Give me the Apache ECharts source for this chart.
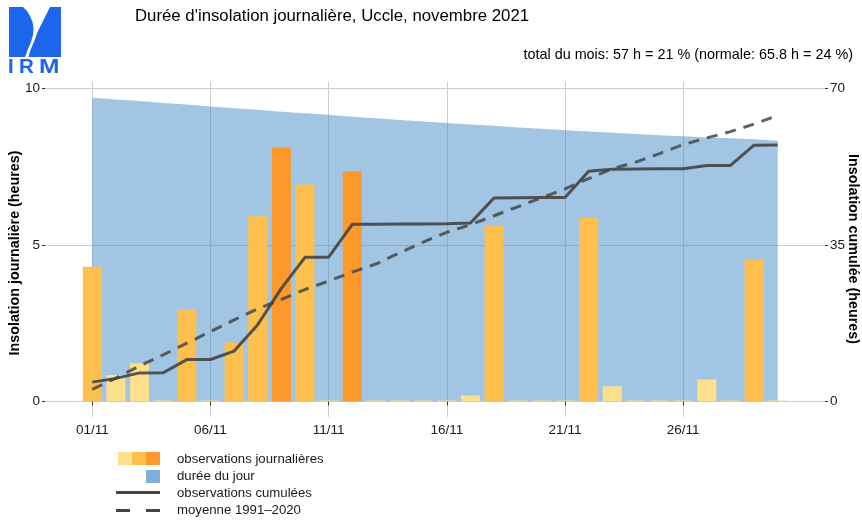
<!DOCTYPE html>
<html><head><meta charset="utf-8">
<script src="https://cdn.jsdelivr.net/npm/echarts@6/dist/echarts.min.js"></script>
<style>html,body{margin:0;padding:0;background:#fff}#c{width:862px;height:520px}</style>
</head><body><div id="c"></div><script>
// ---- data ----
const days = [1,2,3,4,5,6,7,8,9,10,11,12,13,14,15,16,17,18,19,20,21,22,23,24,25,26,27,28,29,30];
const axisDays = [-1,0,1,2,3,4,5,6,7,8,9,10,11,12,13,14,15,16,17,18,19,20,21,22,23,24,25,26,27,28,29,30,31,32];
const labelDays = [1,6,11,16,21,26];
const daily = [4.3,0.84,1.22,0.03,2.94,0.03,1.88,5.91,8.11,6.93,0.03,7.35,0.03,0.03,0.03,0.03,0.19,5.61,0.03,0.03,0.03,5.86,0.48,0.03,0.03,0.03,0.70,0.03,4.54,0.03];
const dayLength = [9.70,9.64,9.59,9.53,9.48,9.42,9.36,9.31,9.25,9.20,9.15,9.09,9.04,8.99,8.94,8.89,8.84,8.80,8.75,8.71,8.66,8.62,8.58,8.54,8.50,8.47,8.43,8.40,8.37,8.32];
const normalCum = [2.7,5.2,7.9,10.4,13.0,15.6,18.2,20.7,22.8,25.0,26.9,28.9,30.7,33.2,35.6,37.8,39.5,41.5,43.5,45.5,47.5,49.8,52.0,53.5,55.4,57.4,58.9,60.3,62.0,63.9];
const leftTicks = [0,5,10];
const rightTicks = [0,35,70];
const titleText = "Durée d'insolation journalière, Uccle, novembre 2021";
const subText = "total du mois: 57 h = 21 % (normale: 65.8 h = 24 %)";
const leftName = 'Insolation journalière (heures)';
const rightName = 'Insolation cumulée (heures)';

// ---- styles ----
const C_LIGHT = '#FDE08C', C_MED = '#FDC04F', C_DARK = '#FD982A';
const LOGO = '#1c66ee';
const FONT = "'Liberation Sans', Arial, sans-serif";

let run = 0;
const obsCum = daily.map(v => (run += v, run));
const cat = d => String(d);
const barData = days.map((d, i) => {
  const r = daily[i] / dayLength[i];
  const col = r >= 0.8 ? C_DARK : (r >= 0.18 ? C_MED : C_LIGHT);
  return { value: [cat(d), daily[i]], itemStyle: { color: col } };
});
const showDay = (idx, val) => labelDays.indexOf(+val) >= 0;

const chart = echarts.init(document.getElementById('c'), null, { renderer: 'canvas' });
const txt = (text, x, y) => ({ type: 'text', x: x, y: y, style: { text: text, font: '13.2px ' + FONT, fill: '#1a1a1a', verticalAlign: 'middle', textVerticalAlign: 'middle' } });
const logoLetter = (ch, x, sx) => ({ type: 'text', x: x, y: 67.5, scaleX: sx || 1, style: { text: ch, font: 'bold 20.5px ' + FONT, fill: LOGO, verticalAlign: 'middle', textVerticalAlign: 'middle' } });
const axisName = (text, x, y, rot) => ({ type: 'text', x: x, y: y, rotation: rot, style: { text: text, font: 'bold 14.3px ' + FONT, fill: '#000', align: 'center', textAlign: 'center', verticalAlign: 'middle', textVerticalAlign: 'middle' } });

chart.setOption({
  animation: false,
  textStyle: { fontFamily: FONT },
  title: [
    { text: titleText, left: 135, top: 8, padding: 0, textStyle: { fontSize: 16.8, fontWeight: 'normal', color: '#000', fontFamily: FONT } },
    { text: subText, right: 9, top: 48, padding: 0, textStyle: { fontSize: 14.4, fontWeight: 'normal', color: '#000', fontFamily: FONT } }
  ],
  grid: { left: 45, right: 37, top: 82, bottom: 103, outerBoundsMode: 'none', containLabel: false },
  xAxis: {
    type: 'category', data: axisDays.map(cat), boundaryGap: false,
    axisLine: { show: false },
    axisTick: { show: true, interval: showDay, length: 4, lineStyle: { color: '#333' } },
    axisLabel: { interval: showDay, margin: 6, color: '#1a1a1a', fontSize: 13.5, fontFamily: FONT,
      formatter: v => (+v < 10 ? '0' : '') + v + '/11' },
    splitLine: { show: true, interval: showDay, lineStyle: { color: '#cdcdcd', width: 1 } }
  },
  yAxis: [
    { type: 'value', min: -0.5, max: 10.2, position: 'left',
      axisLine: { show: false },
      axisTick: { show: true, customValues: leftTicks, length: 3, lineStyle: { color: '#333' } },
      axisLabel: { customValues: leftTicks, margin: 5, color: '#1a1a1a', fontSize: 13.5, fontFamily: FONT },
      splitLine: { show: true, lineStyle: { color: '#cdcdcd', width: 1 } } },
    { type: 'value', min: -3.5, max: 71.4, position: 'right',
      axisLine: { show: false },
      axisTick: { show: true, customValues: rightTicks, length: 3, lineStyle: { color: '#333' } },
      axisLabel: { customValues: rightTicks, margin: 5, color: '#1a1a1a', fontSize: 13.5, fontFamily: FONT },
      splitLine: { show: false } }
  ],
  series: [
    { name: 'durée du jour', type: 'line', yAxisIndex: 0, data: days.map((d, i) => [cat(d), dayLength[i]]),
      symbol: 'none', lineStyle: { width: 0 }, areaStyle: { color: 'rgba(67,139,197,0.5)', opacity: 1 }, silent: true, z: 1 },
    { name: 'observations journalières', type: 'bar', yAxisIndex: 0, data: barData, barWidth: 19, z: 2 },
    { name: 'moyenne 1991–2020', type: 'line', yAxisIndex: 1, data: days.map((d, i) => [cat(d), normalCum[i]]),
      symbol: 'none', lineStyle: { color: 'rgba(70,70,70,0.85)', width: 3, type: [11, 8] }, z: 3 },
    { name: 'observations cumulées', type: 'line', yAxisIndex: 1, data: days.map((d, i) => [cat(d), obsCum[i]]),
      symbol: 'none', lineStyle: { color: 'rgba(65,65,65,0.88)', width: 3 }, z: 4 }
  ],
  graphic: [
    // axis names
    axisName(leftName, 15, 253, Math.PI / 2),
    axisName(rightName, 853, 249, -Math.PI / 2),
    // logo
    { type: 'rect', shape: { x: 9, y: 7, width: 52, height: 50 }, style: { fill: LOGO } },
    { type: 'polygon', shape: { points: [[23,7],[27,11],[30,16],[32.5,22],[33.5,28],[33,35],[31,42],[28,49],[25,57],[28.5,57],[30.5,50],[33,44],[35.5,38],[38,31],[41,25],[44,19],[47,13],[50,7]] }, style: { fill: '#ffffff' } },
    logoLetter('I', 8),
    logoLetter('R', 19),
    logoLetter('M', 39, 1.2),
    // legend
    { type: 'rect', shape: { x: 118, y: 452, width: 14, height: 13 }, style: { fill: C_LIGHT } },
    { type: 'rect', shape: { x: 132, y: 452, width: 14, height: 13 }, style: { fill: C_MED } },
    { type: 'rect', shape: { x: 146, y: 452, width: 14, height: 13 }, style: { fill: C_DARK } },
    txt('observations journalières', 177, 459),
    { type: 'rect', shape: { x: 146, y: 470, width: 14, height: 13 }, style: { fill: '#7DAFD8' } },
    txt('durée du jour', 177, 476.5),
    { type: 'line', shape: { x1: 116, y1: 492.5, x2: 160, y2: 492.5 }, style: { stroke: '#444', lineWidth: 3 } },
    txt('observations cumulées', 177, 493),
    { type: 'line', shape: { x1: 116, y1: 510.5, x2: 130, y2: 510.5 }, style: { stroke: '#444', lineWidth: 3 } },
    { type: 'line', shape: { x1: 146, y1: 510.5, x2: 160, y2: 510.5 }, style: { stroke: '#444', lineWidth: 3 } },
    txt('moyenne 1991–2020', 177, 510.5)
  ]
});
</script></body></html>
